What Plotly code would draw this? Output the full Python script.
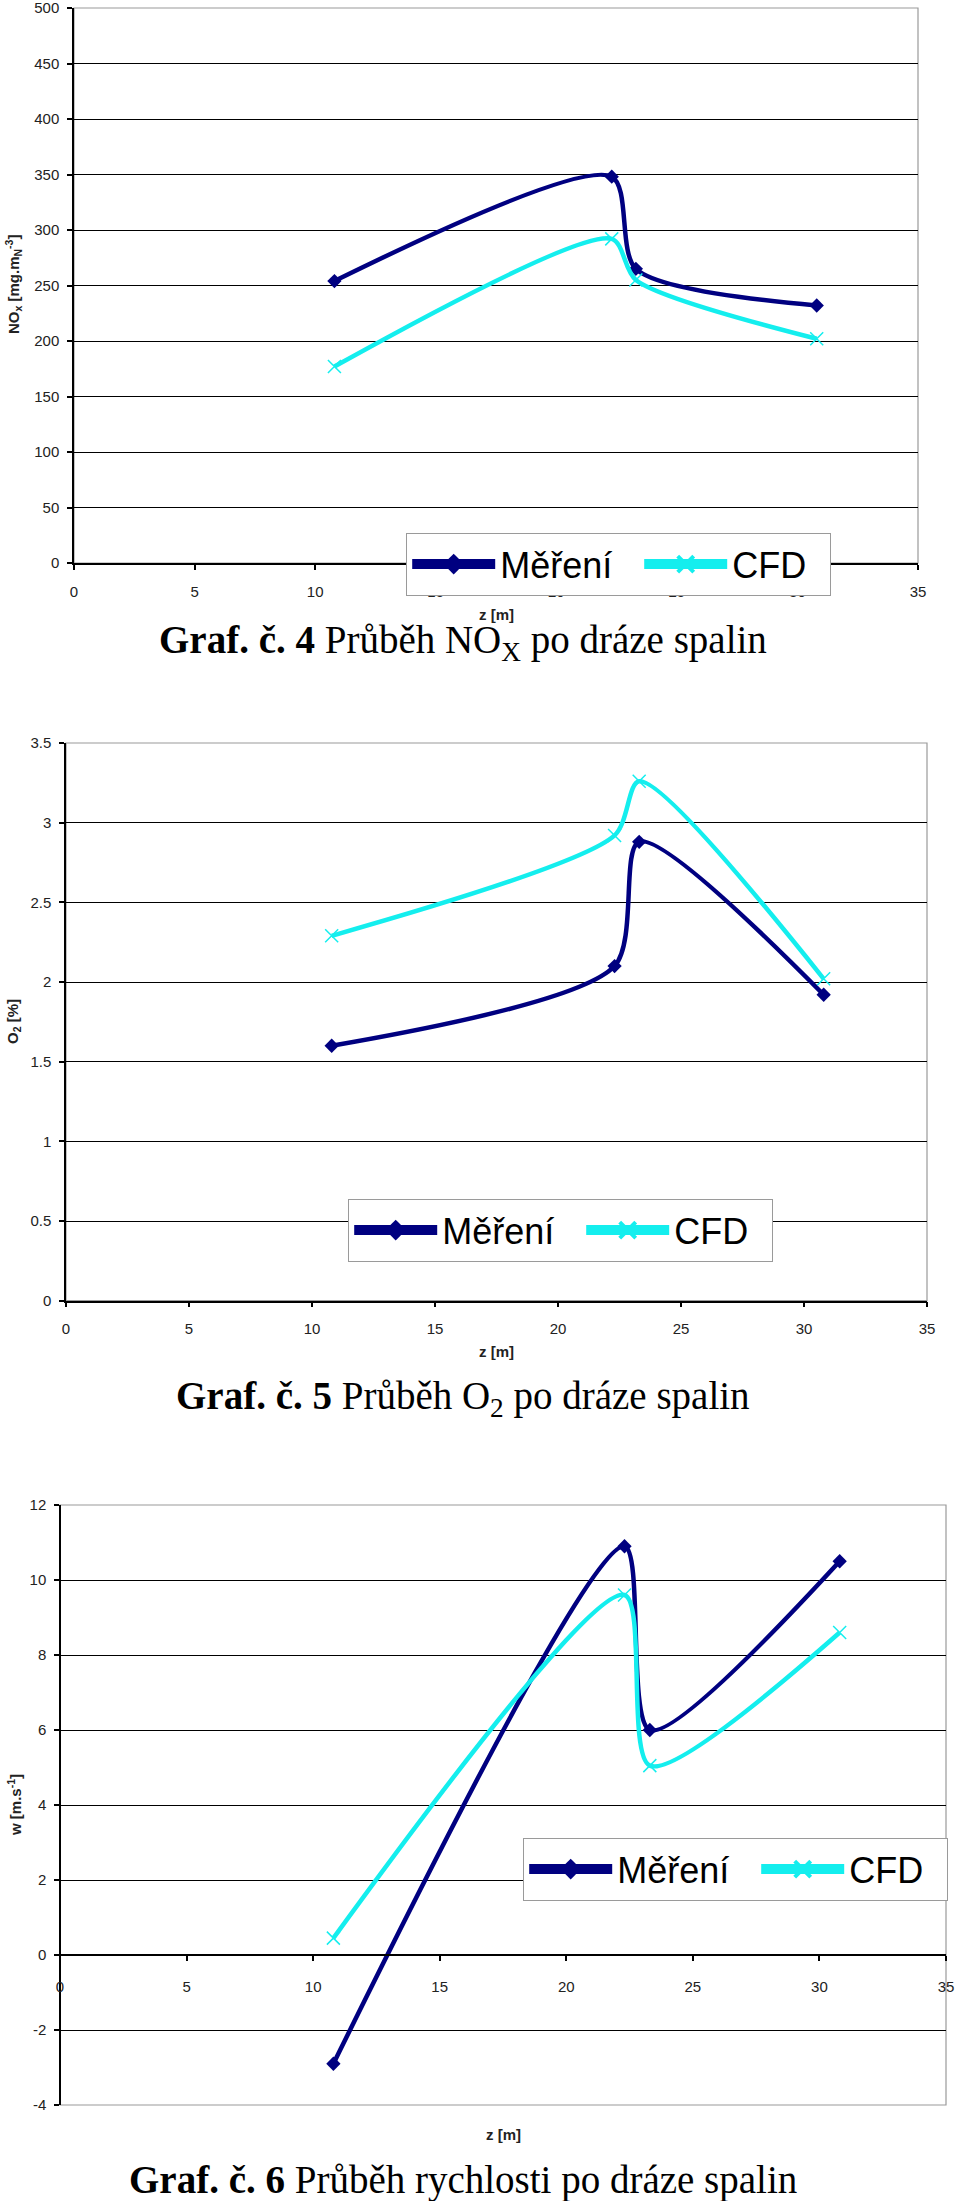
import plotly.graph_objects as go

W, H = 960, 2201

# ---------------- data ----------------
z_pos = [10.8, 22.3, 23.3, 30.8]

nox_meas = [254, 348, 265, 232]
nox_cfd = [177, 292, 255, 202]

o2_meas = [1.60, 2.10, 2.88, 1.92]
o2_cfd = [2.29, 2.92, 3.26, 2.02]

w_meas = [-2.9, 10.9, 6.0, 10.5]
w_cfd = [0.45, 9.6, 5.05, 8.6]

series_names = ["Měření", "CFD"]
x_ticks = [0, 5, 10, 15, 20, 25, 30, 35]
nox_ticks = [0, 50, 100, 150, 200, 250, 300, 350, 400, 450, 500]
o2_ticks = [0, 0.5, 1, 1.5, 2, 2.5, 3, 3.5]
w_ticks = [-4, -2, 0, 2, 4, 6, 8, 10, 12]

captions = [
    "<b>Graf. č. 4</b> Průběh NO<sub>X</sub> po dráze spalin",
    "<b>Graf. č. 5</b> Průběh O<sub>2</sub> po dráze spalin",
    "<b>Graf. č. 6</b> Průběh rychlosti po dráze spalin",
]
y_titles = [
    "NO<sub>x</sub> [mg.m<sub>N</sub><sup>-3</sup>]",
    "O<sub>2</sub> [%]",
    "w [m.s<sup>-1</sup>]",
]
x_title = "z [m]"

# ---------------- style ----------------
NAVY = "#000080"
CYAN = "#14EEEE"
SANS = "Liberation Sans, Arial, sans-serif"
SERIF = "Liberation Serif, Times New Roman, serif"
SMOOTH = 0.75


def fx(px):
    return px / W


def fy(py):
    return 1 - py / H


# pixel boxes of the plot areas: left, right, top, bottom
boxes = [
    (74, 918, 8, 563),
    (66, 927, 743, 1300.7),
    (60, 946, 1505, 2105),
]
y_ranges = [(0, 500), (0, 3.5), (-4, 12)]
y_tickvals = [nox_ticks, o2_ticks, w_ticks]
meas_data = [nox_meas, o2_meas, w_meas]
cfd_data = [nox_cfd, o2_cfd, w_cfd]
legend_pos = [(406, 533), (348, 1199), (523, 1838)]
xlabel_standoff = [9, 9, 13]
ztitle_y = [614, 1351, 2134]
ytitle_y = [285, 1022, 1805]
caption_y = [643, 1398, 2180]

fig = go.Figure()
layout = dict(
    width=W, height=H,
    margin=dict(l=0, r=0, t=0, b=0, autoexpand=False),
    paper_bgcolor="white", plot_bgcolor="white",
    showlegend=True, annotations=[], shapes=[],
)

for i in range(3):
    n = "" if i == 0 else str(i + 1)
    xa, ya = "x" + n, "y" + n
    l, r, t, b = boxes[i]
    leg = "legend" + n

    fig.add_trace(go.Scatter(
        x=z_pos, y=meas_data[i], mode="lines+markers", xaxis=xa, yaxis=ya,
        line=dict(color=NAVY, width=4.5, shape="spline", smoothing=SMOOTH),
        marker=dict(symbol="diamond", size=11, color=NAVY),
        showlegend=False, name=series_names[0]))
    fig.add_trace(go.Scatter(
        x=z_pos, y=cfd_data[i], mode="lines+markers", xaxis=xa, yaxis=ya,
        line=dict(color=CYAN, width=4.5, shape="spline", smoothing=SMOOTH),
        marker=dict(symbol="x-thin", size=13, color=CYAN,
                    line=dict(width=1.5, color=CYAN)),
        showlegend=False, name=series_names[1]))
    # legend entries
    fig.add_trace(go.Scatter(
        x=[None], y=[None], mode="lines+markers", xaxis=xa, yaxis=ya,
        line=dict(color=NAVY, width=10),
        marker=dict(symbol="diamond", size=16, color=NAVY),
        name=series_names[0], legend=leg, legendwidth=134))
    fig.add_trace(go.Scatter(
        x=[None], y=[None], mode="lines+markers", xaxis=xa, yaxis=ya,
        line=dict(color=CYAN, width=10),
        marker=dict(symbol="x-thin", size=16, color=CYAN,
                    line=dict(width=4, color=CYAN)),
        name=series_names[1], legend=leg, legendwidth=92))

    y0, y1 = y_ranges[i]
    ydom = [fy(b), fy(t)]
    xaxis = dict(
        domain=[fx(l), fx(r)], range=[0, 35], tickvals=x_ticks,
        ticktext=[str(v) for v in x_ticks],
        showgrid=False, zeroline=False, showline=True, linecolor="black",
        linewidth=1.5, ticks="outside", ticklen=5, tickwidth=1.5,
        tickcolor="black", ticklabelstandoff=xlabel_standoff[i],
        ticklabeloverflow="allow",
        tickfont=dict(family=SANS, size=15, color="#222"),
        fixedrange=True,
    )
    if y0 < 0:
        xaxis.update(anchor="free",
                     position=ydom[0] + (0 - y0) / (y1 - y0) * (ydom[1] - ydom[0]))
    else:
        xaxis.update(anchor=ya)
    yaxis = dict(
        domain=ydom, range=[y0, y1], tickvals=y_tickvals[i],
        ticktext=["%g" % v for v in y_tickvals[i]],
        showgrid=True, gridcolor="black", gridwidth=1.2, zeroline=False,
        showline=True, linecolor="black", linewidth=1.5, ticks="outside",
        ticklen=5, tickwidth=1.5, tickcolor="black", ticklabelstandoff=5,
        ticklabeloverflow="allow",
        tickfont=dict(family=SANS, size=15, color="#222"),
        fixedrange=True,
    )
    if y0 < 0:
        yaxis.update(anchor="free", position=fx(l))
    else:
        yaxis.update(anchor=xa)
    layout["xaxis" + n] = xaxis
    layout["yaxis" + n] = yaxis

    # plot-area border
    layout["shapes"].append(dict(
        type="rect", xref=xa + " domain", yref=ya + " domain",
        x0=0, x1=1, y0=0, y1=1, line=dict(color="#9a9a9a", width=1.2),
        layer="below"))

    lx, ly = legend_pos[i]
    layout[leg] = dict(
        x=fx(lx), y=fy(ly), xanchor="left", yanchor="top",
        orientation="h", bgcolor="white", bordercolor="#9a9a9a",
        borderwidth=1.2, itemwidth=83,
        font=dict(family=SANS, size=36, color="black"),
        itemclick=False, itemdoubleclick=False,
    )

    layout["annotations"] += [
        dict(text=x_title, xref="paper", yref="paper",
             x=fx((l + r) / 2), y=fy(ztitle_y[i]), xanchor="center",
             yanchor="middle", showarrow=False,
             font=dict(family=SANS, size=15, color="#222", weight="bold")),
        dict(text="<b>" + y_titles[i] + "</b>", xref="paper", yref="paper",
             x=fx(14), y=fy(ytitle_y[i]), xanchor="center", yanchor="middle",
             textangle=-90, showarrow=False,
             font=dict(family=SANS, size=15, color="#222")),
        dict(text=captions[i], xref="paper", yref="paper",
             x=fx(463), y=fy(caption_y[i]), xanchor="center",
             yanchor="middle", showarrow=False,
             font=dict(family=SERIF, size=39, color="black")),
    ]

fig.update_layout(**layout)
fig.write_html("out.html")
